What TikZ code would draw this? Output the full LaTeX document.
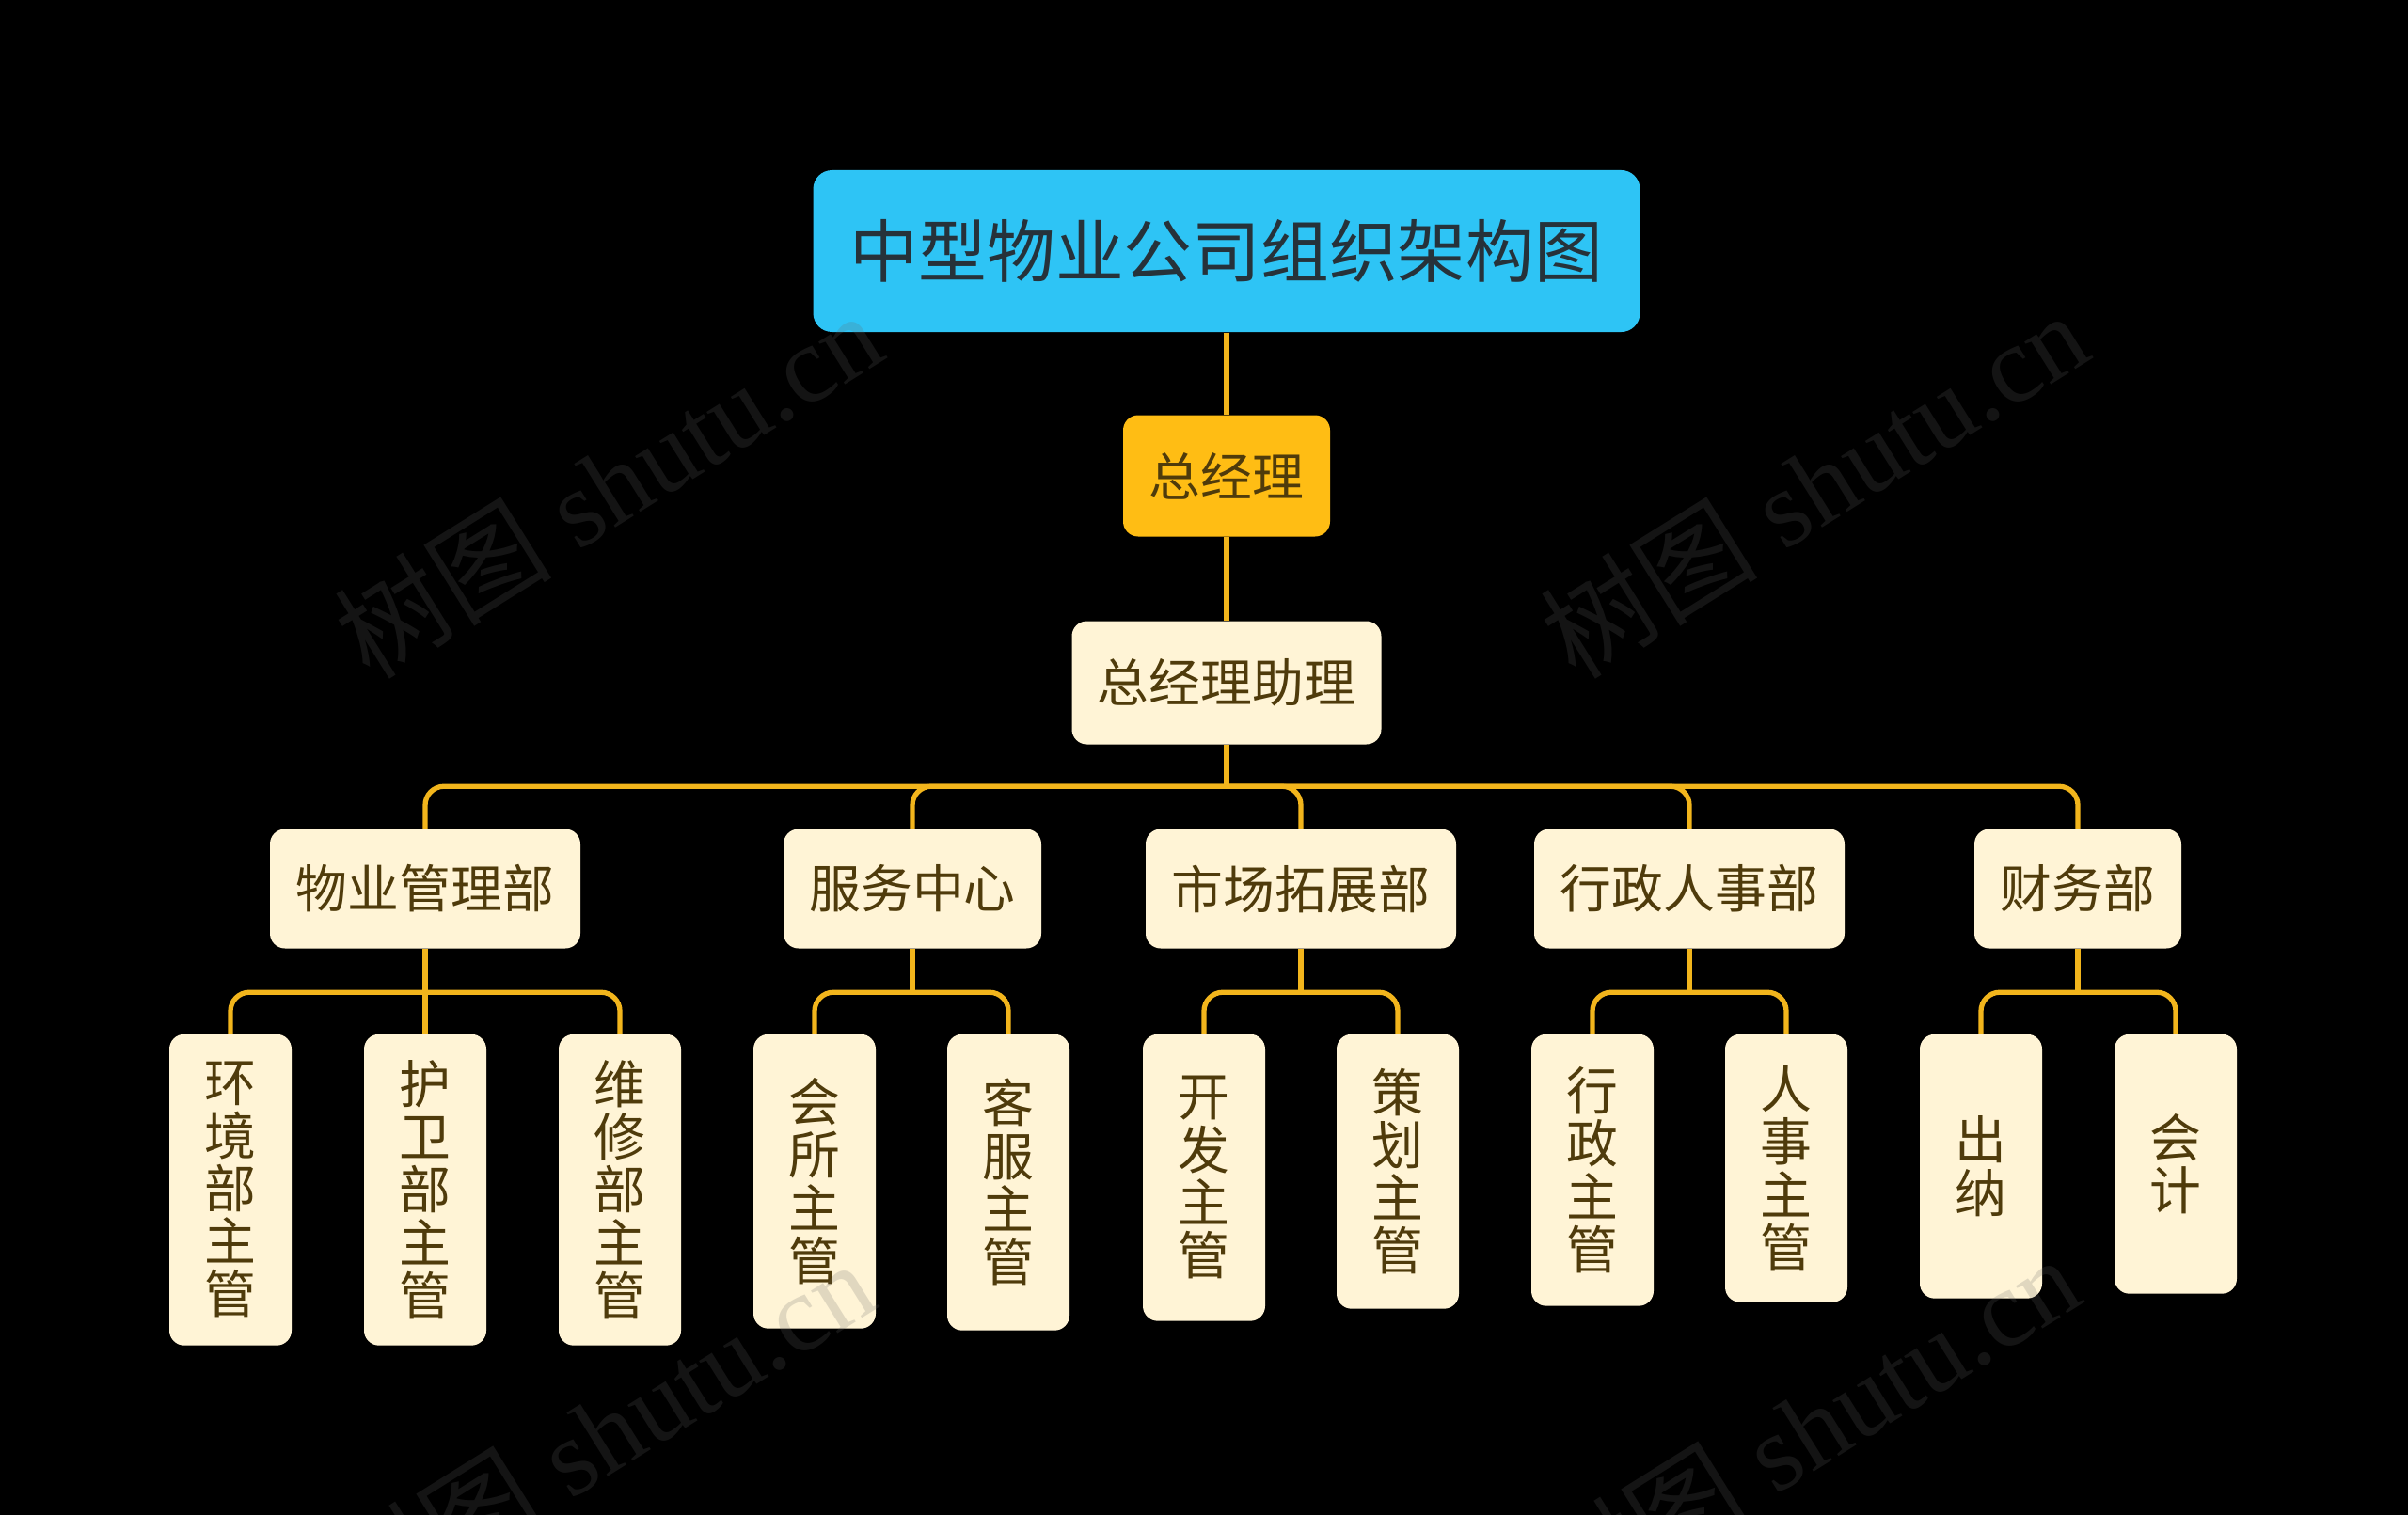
\documentclass[tikz,border=0pt]{standalone}
\usepackage{fontspec}
\setmainfont{Liberation Serif}
\newfontfamily\cjk{Noto Sans CJK SC}
\usetikzlibrary{positioning}
\definecolor{titlefill}{HTML}{2EC4F5}
\definecolor{titletext}{HTML}{26323A}
\definecolor{gmfill}{HTML}{FFBD14}
\definecolor{creamfill}{HTML}{FFF4D6}
\definecolor{creamtext}{HTML}{4F3B0B}
\definecolor{linecol}{HTML}{F2B51C}
\definecolor{wmcol}{HTML}{666666}
\tikzset{
  titlebox/.style={fill=titlefill, text=titletext, rounded corners=0.2cm, minimum width=8.79cm, minimum height=1.72cm, font=\cjk\fontsize{20.7}{24}\selectfont, inner sep=0pt},
  gmbox/.style={fill=gmfill, text=creamtext, rounded corners=0.16cm, minimum width=2.2cm, minimum height=1.29cm, font=\cjk\fontsize{15.6}{18}\selectfont, inner sep=0pt},
  hbox/.style={fill=creamfill, text=creamtext, rounded corners=0.16cm, minimum height=1.27cm, font=\cjk\fontsize{15.6}{18}\selectfont, inner sep=0pt},
  vbox/.style={fill=creamfill, text=creamtext, rounded corners=0.16cm, minimum width=1.3cm, anchor=north, font=\cjk\fontsize{15.6}{16}\selectfont, inner sep=0pt, align=center},
  conn/.style={draw=linecol, line width=1.5pt},
  branch/.style={conn, rounded corners=0.2cm},
  wm/.style={text=wmcol, text opacity=0.2, rotate=32, font=\fontsize{33}{36}\selectfont}
}
\begin{document}
\begin{tikzpicture}
\fill[black] (0,0) rectangle (25.6,-16.11);
\useasboundingbox (0,0) rectangle (25.6,-16.11);

% top
\node[titlebox] (title) at (13.04,-2.67) {中型物业公司组织架构图};
\node[gmbox] (gm) at (13.04,-5.06) {总经理};
\node[hbox, minimum width=3.29cm, minimum height=1.31cm] (asst) at (13.04,-7.26) {总经理助理};

% level 2
\node[hbox, minimum width=3.3cm] (d1) at (4.52,-9.45) {物业管理部};
\node[hbox, minimum width=2.74cm] (d2) at (9.70,-9.45) {服务中心};
\node[hbox, minimum width=3.3cm] (d3) at (13.83,-9.45) {市场拓展部};
\node[hbox, minimum width=3.3cm] (d4) at (17.96,-9.45) {行政人事部};
\node[hbox, minimum width=2.2cm] (d5) at (22.09,-9.45) {财务部};

% level 3
\node[vbox, minimum height=3.31cm] (e1) at (2.45,-10.99) {环\\境\\部\\主\\管};
\node[vbox, minimum height=3.31cm] (e2) at (4.52,-10.99) {护\\卫\\部\\主\\管};
\node[vbox, minimum height=3.31cm] (e3) at (6.59,-10.99) {维\\修\\部\\主\\管};
\node[vbox, minimum height=3.13cm] (e4) at (8.66,-10.99) {会\\所\\主\\管};
\node[vbox, minimum height=3.15cm] (e5) at (10.72,-10.99) {客\\服\\主\\管};
\node[vbox, minimum height=3.05cm] (e6) at (12.80,-10.99) {开\\发\\主\\管};
\node[vbox, minimum height=2.92cm] (e7) at (14.86,-10.99) {策\\划\\主\\管};
\node[vbox, minimum height=2.89cm] (e8) at (16.93,-10.99) {行\\政\\主\\管};
\node[vbox, minimum height=2.85cm] (e9) at (18.99,-10.99) {人\\事\\主\\管};
\node[vbox, minimum height=2.81cm] (e10) at (21.06,-10.99) {出\\纳};
\node[vbox, minimum height=2.76cm] (e11) at (23.13,-10.99) {会\\计};

% connectors top
\draw[conn] (title.south) -- (gm.north);
\draw[conn] (gm.south) -- (asst.north);

% level 2 connectors
\draw[conn] (asst.south) -- ++(0,-0.44) coordinate (j0);
\foreach \c in {d1,d2,d3,d4,d5} {
  \draw[branch] (j0) -| (\c.north);
}

% level 3 connectors
\draw[conn] (d1.south) -- ++(0,-0.46) coordinate (j1);
\foreach \c in {e1,e2,e3} { \draw[branch] (j1) -| (\c.north); }
\draw[conn] (d2.south) -- ++(0,-0.46) coordinate (j2);
\foreach \c in {e4,e5} { \draw[branch] (j2) -| (\c.north); }
\draw[conn] (d3.south) -- ++(0,-0.46) coordinate (j3);
\foreach \c in {e6,e7} { \draw[branch] (j3) -| (\c.north); }
\draw[conn] (d4.south) -- ++(0,-0.46) coordinate (j4);
\foreach \c in {e8,e9} { \draw[branch] (j4) -| (\c.north); }
\draw[conn] (d5.south) -- ++(0,-0.46) coordinate (j5);
\foreach \c in {e10,e11} { \draw[branch] (j5) -| (\c.north); }

% watermarks (drawn on top, faint)
\node[wm] (wm1) at (6.46,-5.15) {{\cjk 树图} shutu.cn};
\node[wm] (wm2) at (19.28,-5.15) {{\cjk 树图} shutu.cn};
\node[wm] (wm3) at (6.38,-15.24) {{\cjk 树图} shutu.cn};
\node[wm] (wm4) at (19.19,-15.19) {{\cjk 树图} shutu.cn};
\end{tikzpicture}
\end{document}
